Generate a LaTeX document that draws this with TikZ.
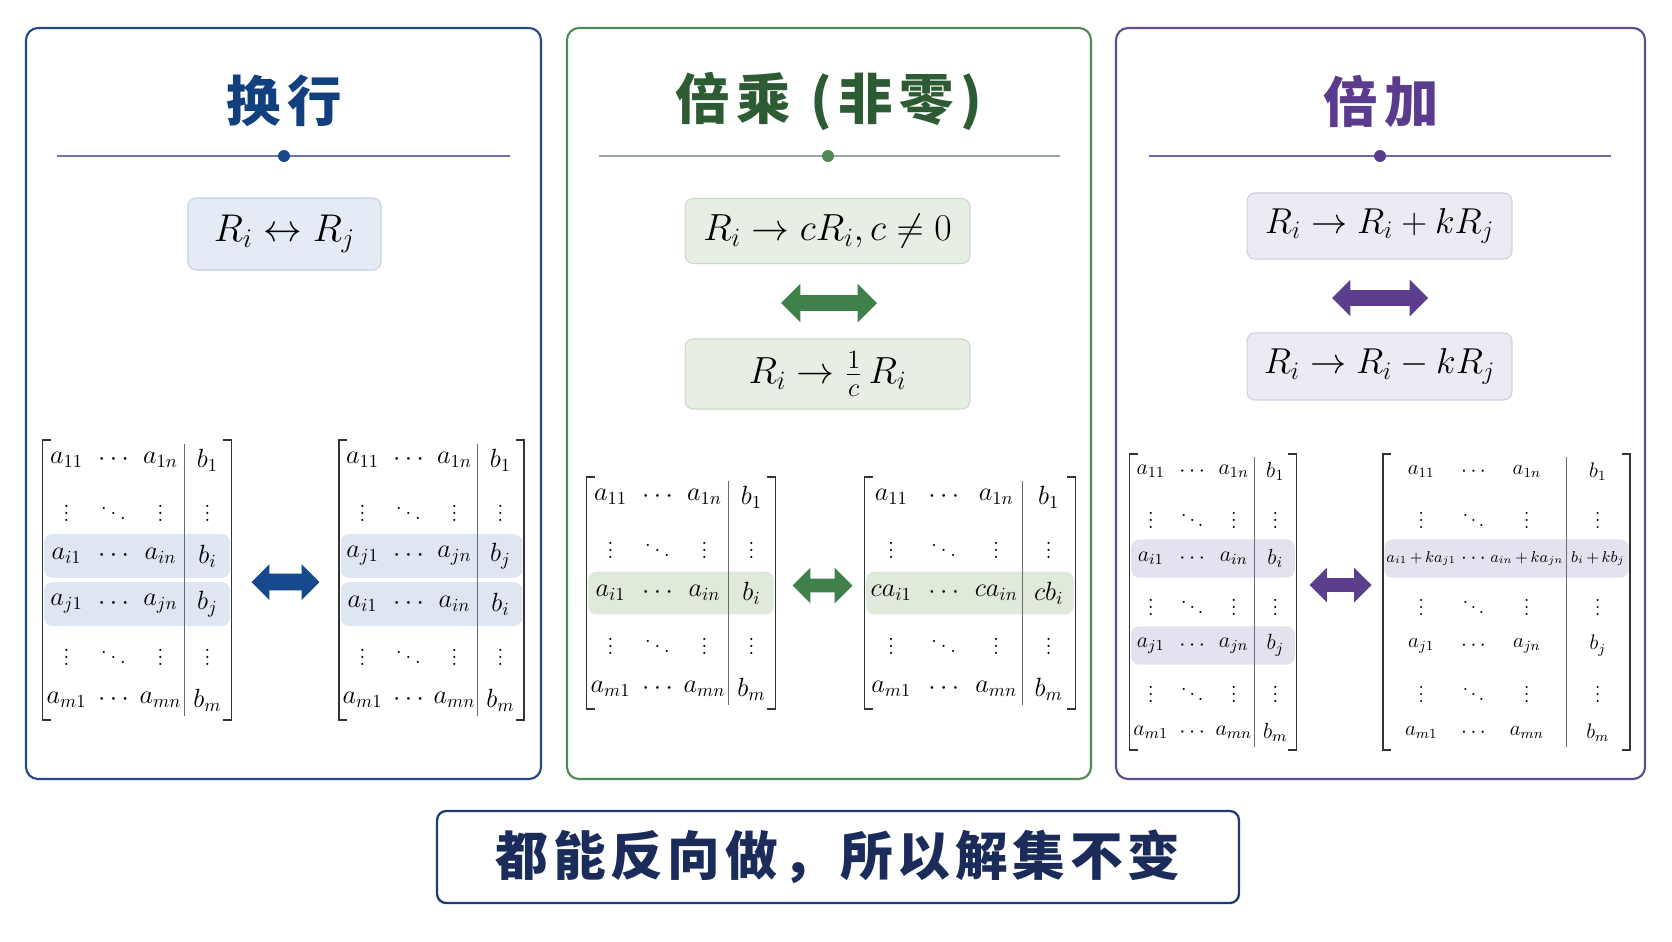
\RequirePackage{fix-cm}
\documentclass[tikz,border=0pt]{standalone}
\usepackage{fontspec}
\newfontfamily\cjk[LetterSpace=12]{Noto Sans CJK SC}
\newfontfamily\cjksum[LetterSpace=9]{Noto Sans CJK SC}
\usetikzlibrary{matrix,backgrounds,shapes.arrows}
\definecolor{swapTitle}{HTML}{123F7E}
\definecolor{swapFrame}{HTML}{24498A}
\definecolor{swapLine}{HTML}{7272B2}
\definecolor{swapFill}{HTML}{E4EBF5}
\definecolor{swapEdge}{HTML}{C3CFE2}
\definecolor{swapHl}{HTML}{DDE6F1}
\definecolor{swapArrow}{HTML}{174A8C}
\definecolor{mulTitle}{HTML}{2D5B33}
\definecolor{mulFrame}{HTML}{4E8B58}
\definecolor{mulLine}{HTML}{9AAAA0}
\definecolor{mulFill}{HTML}{E7EFE5}
\definecolor{mulEdge}{HTML}{CBD8C9}
\definecolor{mulHl}{HTML}{DFEADB}
\definecolor{mulArrow}{HTML}{40804B}
\definecolor{addTitle}{HTML}{5A3B8D}
\definecolor{addFrame}{HTML}{5E4B90}
\definecolor{addLine}{HTML}{7264A8}
\definecolor{addFill}{HTML}{EDEAF4}
\definecolor{addEdge}{HTML}{D3CDE2}
\definecolor{addHl}{HTML}{E6E1EF}
\definecolor{addArrow}{HTML}{5B3E8C}
\definecolor{sumNavy}{HTML}{1B2C5A}
\definecolor{sumFrame}{HTML}{203C70}
\definecolor{barGray}{HTML}{6A6A6A}

% brackets and the augment bar round a matrix: name, number of rows
\newcommand{\augment}[2]{%
  \draw[brk] ([xshift=0.12cm,yshift=-0.05cm]#1.north west) -- ([xshift=-0.04cm,yshift=-0.05cm]#1.north west)
    -- ([xshift=-0.04cm,yshift=0.05cm]#1.south west) -- ([xshift=0.12cm,yshift=0.05cm]#1.south west);
  \draw[brk] ([xshift=-0.12cm,yshift=-0.05cm]#1.north east) -- ([xshift=0.04cm,yshift=-0.05cm]#1.north east)
    -- ([xshift=0.04cm,yshift=0.05cm]#1.south east) -- ([xshift=-0.12cm,yshift=0.05cm]#1.south east);
  \draw[bar] ([xshift=0.04cm,yshift=-0.12cm]#1-1-3.north east) -- ([xshift=0.04cm,yshift=0.12cm]#1-#2-3.south east);
}

\begin{document}
\begin{tikzpicture}[x=0.02cm, y=-0.02cm,
    panel/.style={draw=#1, line width=1.2pt, rounded corners=0.24cm},
    title/.style={font=\cjk\bfseries\fontsize{31}{36}\selectfont, inner sep=0pt},
    divider/.style={draw=#1, line width=0.8pt},
    rulebox/.style={draw=#1Edge, fill=#1Fill, line width=0.6pt, rounded corners=0.16cm, inner sep=0pt},
    dblarrow/.style={double arrow, draw=none, inner xsep=0pt, minimum width=1pt},
    amat/.style={matrix of math nodes, inner sep=0pt, column sep=0.08cm, row sep=0.08cm,
      nodes={anchor=center, inner sep=0pt}},
    brk/.style={draw=black!80, line width=0.9pt},
    bar/.style={draw=barGray, line width=0.7pt},
    hl/.style={fill=#1, rounded corners=0.16cm},
    sumbox/.style={draw=sumFrame, line width=1.3pt, rounded corners=0.18cm, text=sumNavy,
      font=\cjksum\bfseries\fontsize{30}{34}\selectfont}]
\useasboundingbox (0,0) rectangle (1672,941);

% panels
\draw[panel=swapFrame] (26,28) rectangle (541,779);
\draw[panel=mulFrame] (567,28) rectangle (1091,779);
\draw[panel=addFrame] (1116,28) rectangle (1645,779);

% headings
\node[title, text=swapTitle] (swapT) at (284,101) {换行};
\node[title, text=mulTitle] (mulT) at (829,101) {倍乘 (非零)};
\node[title, text=addTitle] (addT) at (1381,101) {倍加};

\draw[divider=swapLine] (57,156) -- (510,156);
\fill[swapArrow] (284,156) circle (0.12cm);
\draw[divider=mulLine] (599,156) -- (1060,156);
\fill[mulFrame] (828,156) circle (0.12cm);
\draw[divider=addLine] (1149,156) -- (1611,156);
\fill[addTitle] (1380,156) circle (0.12cm);

% row operations
\node[rulebox=swap, minimum width=3.86cm, minimum height=1.44cm, font=\fontsize{22}{26}\selectfont]
  (swapR) at (284.5,234) {$R_i \leftrightarrow R_j$};

\node[rulebox=mul, minimum width=5.7cm, minimum height=1.3cm, font=\fontsize{21.5}{25}\selectfont]
  (mulR) at (827.5,231) {$R_i \rightarrow cR_i, c \neq 0$};
\node[dblarrow, fill=mulArrow, minimum height=1.92cm, inner ysep=0.15cm, double arrow head extend=0.23cm]
  (mulX) at (829,303) {};
\node[rulebox=mul, minimum width=5.7cm, minimum height=1.4cm, font=\fontsize{21.5}{25}\selectfont]
  (mulQ) at (827.5,374) {$R_i \rightarrow \frac{1}{c}\, R_i$};

\node[rulebox=add, minimum width=5.3cm, minimum height=1.32cm, font=\fontsize{20.5}{24}\selectfont]
  (addR) at (1379.5,226) {$R_i \rightarrow R_i + kR_j$};
\node[dblarrow, fill=addArrow, minimum height=1.92cm, inner ysep=0.15cm, double arrow head extend=0.21cm]
  (addX) at (1380,298) {};
\node[rulebox=add, minimum width=5.3cm, minimum height=1.34cm, font=\fontsize{20.5}{24}\selectfont]
  (addQ) at (1379.5,366.5) {$R_i \rightarrow R_i - kR_j$};

% swap matrices
\matrix (swapA) [amat, nodes={font=\fontsize{15}{18}\selectfont, minimum width=0.86cm, minimum height=0.88cm}]
  at (137,580) {
  a_{11} & \cdots & a_{1n} & b_1 \\
  \vdots & \ddots & \vdots & \vdots \\
  a_{i1} & \cdots & a_{in} & b_i \\
  a_{j1} & \cdots & a_{jn} & b_j \\
  \vdots & \ddots & \vdots & \vdots \\
  a_{m1} & \cdots & a_{mn} & b_m \\
};
\matrix (swapB) [amat, nodes={font=\fontsize{15}{18}\selectfont, minimum width=0.84cm, minimum height=0.88cm}]
  at (431.5,580) {
  a_{11} & \cdots & a_{1n} & b_1 \\
  \vdots & \ddots & \vdots & \vdots \\
  a_{j1} & \cdots & a_{jn} & b_j \\
  a_{i1} & \cdots & a_{in} & b_i \\
  \vdots & \ddots & \vdots & \vdots \\
  a_{m1} & \cdots & a_{mn} & b_m \\
};
\augment{swapA}{6}
\augment{swapB}{6}
\node[dblarrow, fill=swapArrow, minimum height=1.36cm, inner ysep=0.16cm, double arrow head extend=0.19cm]
  (swapX) at (285.5,582) {};

% scaling matrices
\matrix (mulA) [amat, nodes={font=\fontsize{15}{18}\selectfont, minimum width=0.86cm, minimum height=0.88cm}]
  at (681,593) {
  a_{11} & \cdots & a_{1n} & b_1 \\
  \vdots & \ddots & \vdots & \vdots \\
  a_{i1} & \cdots & a_{in} & b_i \\
  \vdots & \ddots & \vdots & \vdots \\
  a_{m1} & \cdots & a_{mn} & b_m \\
};
\matrix (mulB) [amat, nodes={font=\fontsize{15}{18}\selectfont, minimum width=0.97cm, minimum height=0.88cm}]
  at (970,593) {
  a_{11} & \cdots & a_{1n} & b_1 \\
  \vdots & \ddots & \vdots & \vdots \\
  ca_{i1} & \cdots & ca_{in} & cb_i \\
  \vdots & \ddots & \vdots & \vdots \\
  a_{m1} & \cdots & a_{mn} & b_m \\
};
\augment{mulA}{5}
\augment{mulB}{5}
\node[dblarrow, fill=mulArrow, minimum height=1.2cm, inner ysep=0.13cm, double arrow head extend=0.22cm]
  (mulY) at (822.5,585.5) {};

% adding matrices
\matrix (addA) [amat, nodes={font=\fontsize{12.5}{15}\selectfont, minimum width=0.75cm, minimum height=0.79cm}]
  at (1213,602) {
  a_{11} & \cdots & a_{1n} & b_1 \\
  \vdots & \ddots & \vdots & \vdots \\
  a_{i1} & \cdots & a_{in} & b_i \\
  \vdots & \ddots & \vdots & \vdots \\
  a_{j1} & \cdots & a_{jn} & b_j \\
  \vdots & \ddots & \vdots & \vdots \\
  a_{m1} & \cdots & a_{mn} & b_m \\
};
\matrix (addB) [amat, nodes={font=\fontsize{12}{14}\selectfont, minimum height=0.79cm},
  column 1/.style={nodes={minimum width=1.44cm}}, column 2/.style={nodes={minimum width=0.48cm}},
  column 3/.style={nodes={minimum width=1.48cm}}, column 4/.style={nodes={minimum width=1.2cm}}]
  at (1506.5,602) {
  a_{11} & \cdots & a_{1n} & b_1 \\
  \vdots & \ddots & \vdots & \vdots \\
  |[font=\fontsize{9}{11}\selectfont]| a_{i1}\,{+}\,ka_{j1} & \cdots & |[font=\fontsize{9}{11}\selectfont]| a_{in}\,{+}\,ka_{jn}
    & |[font=\fontsize{9}{11}\selectfont]| b_i\,{+}\,kb_j \\
  \vdots & \ddots & \vdots & \vdots \\
  a_{j1} & \cdots & a_{jn} & b_j \\
  \vdots & \ddots & \vdots & \vdots \\
  a_{m1} & \cdots & a_{mn} & b_m \\
};
\augment{addA}{7}
\augment{addB}{7}
\node[dblarrow, fill=addArrow, minimum height=1.24cm, inner ysep=0.13cm, double arrow head extend=0.21cm]
  (addY) at (1340.5,585) {};

% highlighted rows
\begin{scope}[on background layer]
  \fill[hl=swapHl] ([xshift=-0.01cm,yshift=-0.01cm]swapA-3-1.north west) rectangle ([xshift=0.01cm,yshift=0.01cm]swapA-3-4.south east);
  \fill[hl=swapHl] ([xshift=-0.01cm,yshift=-0.01cm]swapA-4-1.north west) rectangle ([xshift=0.01cm,yshift=0.01cm]swapA-4-4.south east);
  \fill[hl=swapHl] ([xshift=-0.01cm,yshift=-0.01cm]swapB-3-1.north west) rectangle ([xshift=0.01cm,yshift=0.01cm]swapB-3-4.south east);
  \fill[hl=swapHl] ([xshift=-0.01cm,yshift=-0.01cm]swapB-4-1.north west) rectangle ([xshift=0.01cm,yshift=0.01cm]swapB-4-4.south east);
  \fill[hl=mulHl] ([xshift=-0.01cm,yshift=-0.02cm]mulA-3-1.north west) rectangle ([xshift=0.01cm,yshift=0.02cm]mulA-3-4.south east);
  \fill[hl=mulHl] ([xshift=-0.01cm,yshift=-0.02cm]mulB-3-1.north west) rectangle ([xshift=0.01cm,yshift=0.02cm]mulB-3-4.south east);
  \fill[hl=addHl] ([xshift=-0.01cm,yshift=-0.02cm]addA-3-1.north west) rectangle ([xshift=0.01cm,yshift=0.02cm]addA-3-4.south east);
  \fill[hl=addHl] ([xshift=-0.01cm,yshift=-0.02cm]addA-5-1.north west) rectangle ([xshift=0.01cm,yshift=0.02cm]addA-5-4.south east);
  \fill[hl=addHl] ([xshift=-0.01cm,yshift=-0.02cm]addB-3-1.north west) rectangle ([xshift=0.01cm,yshift=0.02cm]addB-3-4.south east);
\end{scope}

% conclusion
\node[sumbox, minimum width=16.04cm, minimum height=1.84cm] (sum) at (838,857) {都能反向做，所以解集不变};
\end{tikzpicture}
\end{document}
